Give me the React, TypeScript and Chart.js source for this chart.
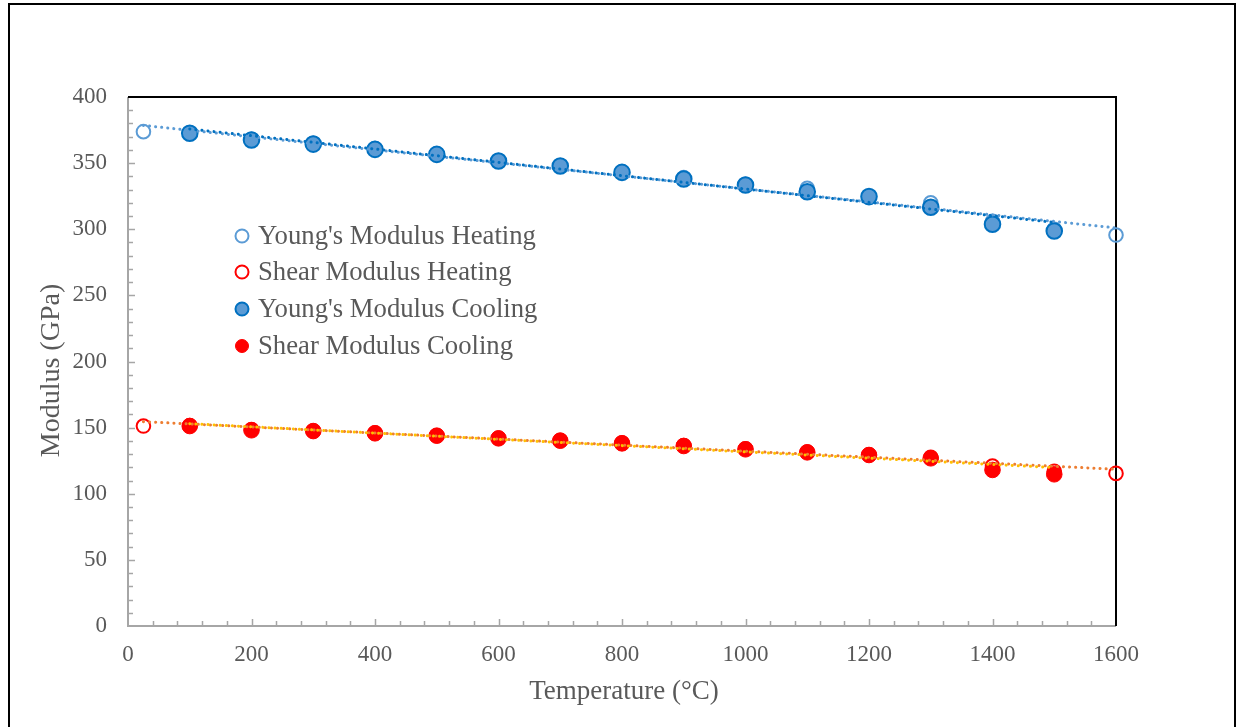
import React, { useEffect, useRef } from "react";
import { Chart, registerables } from "chart.js";

Chart.register(...registerables);

const FONT = "'Liberation Serif', 'Times New Roman', serif";
const TEXT = "#595959";

// ---- data ----
const heatingTemps = [25, 100, 200, 300, 400, 500, 600, 700, 800, 900, 1000, 1100, 1200, 1300, 1400, 1500, 1600];
const youngHeating = [373.8, 373, 368, 365, 361, 357, 352, 348, 343.5, 339, 334, 331, 325, 320, 306, 300, 295.6];
const shearHeating = [151.2, 151.5, 148.5, 147.5, 146, 144, 142, 140.5, 138.5, 136.5, 134, 131.5, 129.5, 127.5, 121, 117, 115.4];

const coolingTemps = [100, 200, 300, 400, 500, 600, 700, 800, 900, 1000, 1100, 1200, 1300, 1400, 1500];
const youngCooling = [372.6, 367.5, 364.4, 360.4, 356.6, 351.6, 347.8, 343, 338, 333.5, 328.4, 324.7, 316.6, 303.8, 298.7];
const shearCooling = [151.2, 148, 147.4, 145.7, 143.9, 141.9, 140.1, 138.1, 136.1, 133.6, 131.3, 129.3, 126.8, 118, 114.7];

// trend line end points
const heatingTrendTemps = [25, 1600];
const youngHeatingTrend = [378.5, 301];
const shearHeatingTrend = [154.5, 118.5];
const coolingTrendTemps = [100, 1500];
const youngCoolingTrend = [375.8, 305.2];
const shearCoolingTrend = [153, 119.8];

const legendLabels = [
  "Young's Modulus Heating",
  "Shear Modulus Heating",
  "Young's Modulus Cooling",
  "Shear Modulus Cooling",
];
const xTitle = "Temperature (°C)";
const yTitle = "Modulus (GPa)";

const pts = (xs: number[], ys: number[]) => xs.map((x, i) => ({ x, y: ys[i] }));

export default function App() {
  const ref = useRef<HTMLCanvasElement>(null);

  useEffect(() => {
    const line = (ctx: CanvasRenderingContext2D, x1: number, y1: number, x2: number, y2: number) => {
      ctx.beginPath();
      ctx.moveTo(x1, y1);
      ctx.lineTo(x2, y2);
      ctx.stroke();
    };

    const deco = {
      id: "deco",
      beforeDatasetsDraw(chart: any) {
        const ctx: CanvasRenderingContext2D = chart.ctx;
        const xs = chart.scales.x;
        const ys = chart.scales.y;
        const { left, right, top, bottom } = chart.chartArea;
        ctx.save();
        ctx.strokeStyle = "#A6A6A6";
        ctx.lineWidth = 1.5;
        for (let v = 40; v < 1600; v += 40) {
          const px = Math.round(xs.getPixelForValue(v)) + 0.5;
          const len = v % 200 === 0 ? 7 : 5;
          line(ctx, px, bottom, px, bottom - len);
        }
        for (let v = 10; v < 400; v += 10) {
          const py = Math.round(ys.getPixelForValue(v)) + 0.5;
          const len = v % 50 === 0 ? 7 : 5;
          line(ctx, left, py, left + len, py);
        }
        ctx.lineWidth = 2;
        line(ctx, left, top, left, bottom + 1);
        line(ctx, left - 1, bottom, right, bottom);
        ctx.strokeStyle = "#000";
        line(ctx, left, top, right + 1, top);
        line(ctx, right, top, right, bottom);
        ctx.restore();
      },
      afterDraw(chart: any) {
        const ctx: CanvasRenderingContext2D = chart.ctx;
        const { left, right, top, bottom } = chart.chartArea;
        ctx.save();
        ctx.fillStyle = TEXT;
        ctx.font = `27px ${FONT}`;
        ctx.textAlign = "center";
        ctx.textBaseline = "middle";
        ctx.fillText(xTitle, (left + right) / 2 + 2, 687);
        ctx.save();
        ctx.translate(42, (top + bottom) / 2 + 9);
        ctx.rotate(-Math.PI / 2);
        ctx.font = `28px ${FONT}`;
        ctx.fillText(yTitle, 0, 0);
        ctx.restore();

        // legend
        const ds = chart.data.datasets;
        const markerIdx = [5, 4, 3, 2];
        const rowsY = [231, 267, 304, 341];
        ctx.textAlign = "left";
        ctx.font = `26.7px ${FONT}`;
        legendLabels.forEach((lab, i) => {
          const d = ds[markerIdx[i]];
          const y = rowsY[i];
          ctx.beginPath();
          ctx.arc(232, y, 6.5, 0, Math.PI * 2);
          if (d.pointBackgroundColor && d.pointBackgroundColor !== "rgba(0,0,0,0)") {
            ctx.fillStyle = d.pointBackgroundColor;
            ctx.fill();
          }
          ctx.lineWidth = d.pointBorderWidth;
          ctx.strokeStyle = d.pointBorderColor;
          ctx.stroke();
          ctx.fillStyle = TEXT;
          ctx.fillText(lab, 248, y + 1);
        });
        ctx.restore();
      },
    };

    const trend = (data: any[], color: string, order: number) => ({
      data,
      showLine: true,
      borderColor: color,
      borderWidth: 3,
      borderDash: [0.1, 6],
      borderCapStyle: "round",
      pointRadius: 0,
      fill: false,
      clip: false,
      order,
    });

    const chart = new Chart(ref.current as HTMLCanvasElement, {
      type: "scatter",
      data: {
        datasets: [
          trend(pts(coolingTrendTemps, shearCoolingTrend), "#FFC000", 0),
          trend(pts(coolingTrendTemps, youngCoolingTrend), "#0070C0", 0),
          {
            label: legendLabels[3],
            data: pts(coolingTemps, shearCooling),
            pointRadius: 7.8,
            pointBackgroundColor: "#FF0000",
            pointBorderColor: "#FF0000",
            pointBorderWidth: 1,
            clip: false,
            order: 2,
          },
          {
            label: legendLabels[2],
            data: pts(coolingTemps, youngCooling),
            pointRadius: 7.8,
            pointBackgroundColor: "#5B9BD5",
            pointBorderColor: "#0070C0",
            pointBorderWidth: 2,
            clip: false,
            order: 2,
          },
          {
            label: legendLabels[1],
            data: pts(heatingTemps, shearHeating),
            pointRadius: 6.8,
            pointBackgroundColor: "rgba(0,0,0,0)",
            pointBorderColor: "#FF0000",
            pointBorderWidth: 2,
            clip: false,
            order: 3,
          },
          {
            label: legendLabels[0],
            data: pts(heatingTemps, youngHeating),
            pointRadius: 6.8,
            pointBackgroundColor: "rgba(0,0,0,0)",
            pointBorderColor: "#5B9BD5",
            pointBorderWidth: 2,
            clip: false,
            order: 3,
          },
          trend(pts(heatingTrendTemps, shearHeatingTrend), "#ED7D31", 1),
          trend(pts(heatingTrendTemps, youngHeatingTrend), "#5B9BD5", 1),
        ] as any,
      },
      options: {
        responsive: false,
        animation: false,
        events: [],
        layout: { padding: { top: 92, right: 118, left: 0, bottom: 0 } },
        plugins: { legend: { display: false }, tooltip: { enabled: false } },
        scales: {
          x: {
            type: "linear",
            min: 0,
            max: 1600,
            grid: { display: false, drawTicks: false },
            border: { display: false },
            ticks: {
              stepSize: 200,
              padding: 15,
              color: TEXT,
              font: { family: FONT, size: 23 },
              callback: (v: any) => String(v),
              maxRotation: 0,
            },
            afterFit: (s: any) => {
              s.height = 119;
            },
          },
          y: {
            type: "linear",
            min: 0,
            max: 400,
            grid: { display: false, drawTicks: false },
            border: { display: false },
            ticks: {
              stepSize: 50,
              padding: 21,
              color: TEXT,
              font: { family: FONT, size: 23 },
              callback: (v: any) => String(v),
            },
            afterFit: (s: any) => {
              s.width = 118;
            },
          },
        },
      } as any,
      plugins: [deco],
    });
    return () => chart.destroy();
  }, []);

  return (
    <div
      style={{
        position: "fixed",
        left: 8,
        top: 3,
        width: 1228,
        height: 760,
        border: "2px solid #000",
        boxSizing: "border-box",
        background: "#fff",
      }}
    >
      <canvas ref={ref} width={1224} height={740} style={{ display: "block" }} />
    </div>
  );
}
